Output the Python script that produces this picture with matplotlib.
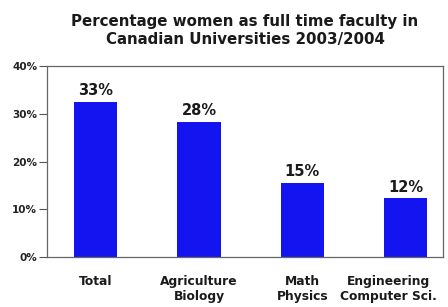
import matplotlib
matplotlib.use("Agg")
import matplotlib.pyplot as plt
import matplotlib.transforms as mtransforms

plt.rcParams['font.family'] = ['DejaVu Sans']

categories = ["Total", "Agriculture\nBiology", "Math\nPhysics", "Engineering\nComputer Sci."]
values = [32.5, 28.3, 15.6, 12.3]
labels = ["33%", "28%", "15%", "12%"]
yticks = [0, 10, 20, 30, 40]
yticklabels = ["0%", "10%", "20%", "30%", "40%"]

fig = plt.figure(figsize=(4.48, 3.07), dpi=100)
ax = fig.add_axes([47/448, 50/307, (443-47)/448, (257-66)/307])
x = list(range(len(categories)))
ax.bar(x, values, width=0.42, color='#1414f0')
for xi, v, lab in zip(x, values, labels):
    ax.text(xi, v + 1.4, lab, ha='center', va='baseline', fontsize=10.5,
            fontweight='bold', color='#1a1a1a')
ax.set_xlim(-0.47, 3.36)
ax.set_ylim(0, 40)
ax.set_yticks(yticks)
ax.set_yticklabels(yticklabels, fontsize=7.5, fontweight='bold', color='#222222')
ax.set_xticks(x)
ax.set_xticklabels(categories, fontsize=8.8, fontweight='bold', linespacing=1.2,
                   color='#1a1a1a')
ax.tick_params(axis='x', length=0, pad=13)
ax.tick_params(axis='y', length=6, width=0.8, color='#555555', pad=1)
# last label shifted left so that it fits inside the figure, as in the reference
last = ax.get_xticklabels()[-1]
last.set_transform(last.get_transform() +
                   mtransforms.ScaledTranslation(-17/100, 0, fig.dpi_scale_trans))
for s in ax.spines.values():
    s.set_color('#666666')
    s.set_linewidth(0.9)
fig.text(0.547, 0.955, "Percentage women as full time faculty in\nCanadian Universities 2003/2004",
         ha='center', va='top', fontsize=10.8, fontweight='bold', linespacing=1.25,
         color='#1a1a1a')
fig.savefig("out.png", dpi=100)
